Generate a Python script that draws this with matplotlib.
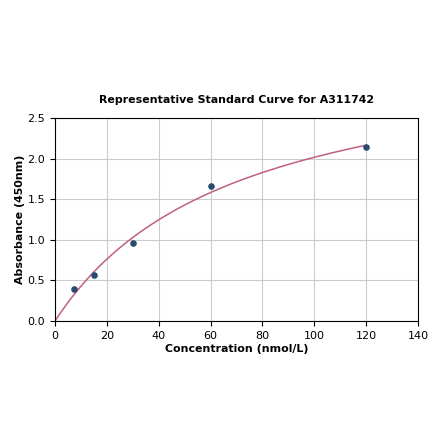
import numpy as np
import matplotlib
matplotlib.use("Agg")
import matplotlib.pyplot as plt

conc = [0, 7.5, 15, 30, 60, 120]
absorb = [0.0, 0.40, 0.57, 0.96, 1.66, 2.14]
title = "Representative Standard Curve for A311742"
xlabel = "Concentration (nmol/L)"
ylabel = "Absorbance (450nm)"

x = np.array(conc)
y = np.array(absorb)

# least squares fit of y = a*x/(b+x) via grid over b
best = None
for b in np.linspace(5, 300, 3000):
    f = x / (b + x)
    a = (f @ y) / (f @ f)
    err = np.sum((a * f - y) ** 2)
    if best is None or err < best[0]:
        best = (err, a, b)
_, a, b = best
xs = np.linspace(0, 120, 300)
ys = a * xs / (b + xs)

fig = plt.figure(figsize=(4.40, 4.41), dpi=100)
ax = fig.add_axes([55 / 440, 1 - 321 / 441, (418 - 55) / 440, (321 - 118) / 441])
ax.plot(xs, ys, color="#c0607e", lw=1.1, zorder=2)
ax.scatter(x[1:], y[1:], s=14, color="#2b4a6f", zorder=3)
ax.set_xlim(0, 140)
ax.set_ylim(0, 2.5)
ax.set_xticks(np.arange(0, 141, 20))
ax.set_yticks(np.arange(0, 2.51, 0.5))
ax.grid(True, color="#cccccc", lw=0.8)
ax.set_axisbelow(True)
ax.tick_params(labelsize=8)
ax.set_title(title, fontsize=7.9, fontweight="bold", pad=11)
ax.set_xlabel(xlabel, fontsize=7.9, fontweight="bold", labelpad=2)
ax.set_ylabel(ylabel, fontsize=7.9, fontweight="bold", labelpad=2)
fig.savefig("out.png", dpi=100)
